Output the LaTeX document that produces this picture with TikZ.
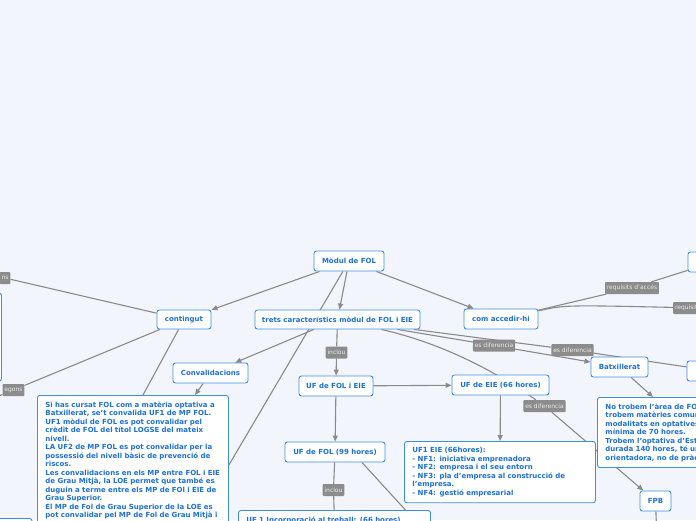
\documentclass[tikz,border=0pt]{standalone}
\usepackage{fontspec}
\setmainfont{DejaVu Sans}
\usetikzlibrary{arrows.meta, positioning, backgrounds, calc}
\definecolor{mapBack}{RGB}{243,245,253}
\definecolor{mapBlue}{RGB}{62,142,228}
\definecolor{mapText}{RGB}{28,112,214}
\definecolor{linkGray}{RGB}{138,138,138}
\definecolor{tagGray}{RGB}{140,140,140}
\definecolor{tagText}{RGB}{236,236,236}

\begin{document}
\begin{tikzpicture}[x=1pt, y=-1pt, >={Triangle[length=6pt,width=5pt]},
    topic/.style={draw=mapBlue, line width=0.9pt, fill=white, rounded corners=2.5pt, text=mapText,
        font=\bfseries\fontsize{7}{8.5}\selectfont, inner sep=2pt, minimum height=20pt},
    note/.style={topic, align=left, inner xsep=8pt, inner ysep=6pt, anchor=north west},
    tag/.style={fill=tagGray, text=tagText, font=\fontsize{6}{7}\selectfont, inner sep=1.8pt,
        minimum height=12pt, rounded corners=0.8pt},
    link/.style={draw=linkGray, line width=1.1pt}]
    \useasboundingbox (0,0) rectangle (696,520);
    \clip (0,0) rectangle (696,520);

    % topics
    \node[topic, minimum width=70pt] (modul) at (349,261) {Mòdul de FOL};
    \node[topic, minimum width=54pt, minimum height=19pt] (contingut) at (184,319.5) {contingut};
    \node[topic, minimum width=165pt, minimum height=19pt] (trets) at (337.5,319.5) {trets característics mòdul de FOL i EIE};
    \node[topic, minimum width=74pt] (accedir) at (501,319) {com accedir-hi};
    \node[topic, minimum width=52pt] (toprt) at (714,262) {};
    \node[topic, minimum width=54pt] (rightbox) at (714,371) {};
    \node[topic, minimum width=84pt, minimum height=88pt] (leftbox) at (-40.5,337) {};
    \node[topic, minimum width=60pt, minimum height=30pt, anchor=north east] (botleft) at (32.5,518) {};
    \node[topic, minimum width=57pt] (batx) at (619.5,367) {Batxillerat};
    \node[topic, minimum width=75pt] (conval) at (210.5,373) {Convalidacions};
    \node[topic, minimum width=74pt] (uffoleie) at (336,386) {UF de FOL i EIE};
    \node[topic, minimum width=97pt] (ufeie) at (500.5,385) {UF de EIE (66 hores)};
    \node[topic, minimum width=100pt] (uffol) at (335,452) {UF de FOL (99 hores)};
    \node[topic, minimum width=31pt] (fpb) at (655.5,501) {FPB};

    % notes
    \node[note, text width=175pt] (convtext) at (37,395) {Si has cursat FOL com a matèria optativa a\\
        Batxillerat, se't convalida UF1 de MP FOL.\\
        UF1 mòdul de FOL es pot convalidar pel\\
        crèdit de FOL del títol LOGSE del mateix\\
        nivell.\\
        LA UF2 de MP FOL es pot convalidar per la\\
        possessió del nivell bàsic de prevenció de\\
        riscos.\\
        Les convalidacions en els MP entre FOL i EIE\\
        de Grau Mitjà, la LOE permet que també es\\
        duguin a terme entre els MP de FOl i EIE de\\
        Grau Superior.\\
        El MP de Fol de Grau Superior de la LOE es\\
        pot convalidar pel MP de Fol de Grau Mitjà i};
    \node[note, text width=175pt] (uf1eie) at (404,441) {UF1 EIE (66hores):\\
        - NF1: iniciativa emprenadora\\
        - NF2: empresa i el seu entorn\\
        - NF3: pla d'empresa al construcció de\\
        l'empresa.\\
        - NF4: gestió empresarial};
    \node[note, text width=200pt] (notrobem) at (597,397) {No trobem l'àrea de FOL\\
        trobem matèries comunes\\
        modalitats en optatives\\
        mínima de 70 hores.\\
        Trobem l'optativa d'Estudis\\
        durada 140 hores, té un\\
        orientadora, no de pràctica};
    \node[note, text width=176pt] (uf1treball) at (238,510) {UF 1 Incorporació al treball: (66 hores)};

    % tags
    \node[tag, anchor=east] (tagns) at (10.5,278) {ns};
    \node[tag, anchor=east] (tagseg) at (24.5,390) {egons};
    \node[tag] (taginc1) at (336.5,352.5) {inclou};
    \node[tag] (tagdif1) at (494,345.5) {es diferencia};
    \node[tag] (tagdif2) at (572.5,350) {es diferencia};
    \node[tag] (tagreq1) at (632,288) {requisits d'accés};
    \node[tag, anchor=west] (tagreq2) at (673,308) {requisits d'accés};
    \node[tag] (tagdif3) at (544.5,406) {es diferencia};
    \node[tag] (taginc2) at (333.5,490) {inclou};

    \coordinate (offns) at (-60,262);
    \coordinate (offseg) at (-60,420);
    \coordinate (fpbdown) at (657,540);

    \begin{scope}[on background layer]
        \clip (0,0) rectangle (696,520);
        \fill[mapBack] (0,0) rectangle (696,520);

        \draw[link,->] (modul) -- (contingut);
        \draw[link,->] (modul) -- (trets);
        \draw[link,->] (modul) -- (accedir);
        \draw[link] (modul) -- ([yshift=-70pt]convtext.north east);

        \draw[link] (contingut) -- (tagns) -- (offns);
        \draw[link] (contingut) -- (tagseg) -- (offseg);
        \draw[link] (contingut) -- ([xshift=106pt]convtext.north west);
        \draw[link,->] (conval) -- ([xshift=158pt]convtext.north west);

        \draw[link,->] (trets) -- (conval);
        \draw[link] (trets) -- (taginc1);
        \draw[link,->] (taginc1) -- (uffoleie);
        \draw[link] (trets) -- (tagdif1);
        \draw[link,->] (tagdif1) -- (batx);
        \draw[link] (trets) -- (tagdif2) -- (rightbox);
        \draw[link] (trets) .. controls (450,345) and (505,378) .. (tagdif3);
        \draw[link,->] (tagdif3) -- (fpb);

        \draw[link] (accedir) -- (tagreq1) -- (toprt);
        \draw[link] (accedir) .. controls (565,305) .. (tagreq2);

        \draw[link,->] (uffoleie) -- (ufeie);
        \draw[link,->] (uffoleie) -- (uffol);
        \draw[link,->] (ufeie) -- (uf1eie);
        \draw[link] (uffol) -- (taginc2) -- (uf1treball);
        \draw[link] ([xshift=27pt]uffol.south) -- ([xshift=71pt]uf1treball.north);

        \draw[link,->] (batx) -- ([xshift=56pt]notrobem.north west);
        \draw[link] (fpb) -- (fpbdown);
    \end{scope}
\end{tikzpicture}
\end{document}
